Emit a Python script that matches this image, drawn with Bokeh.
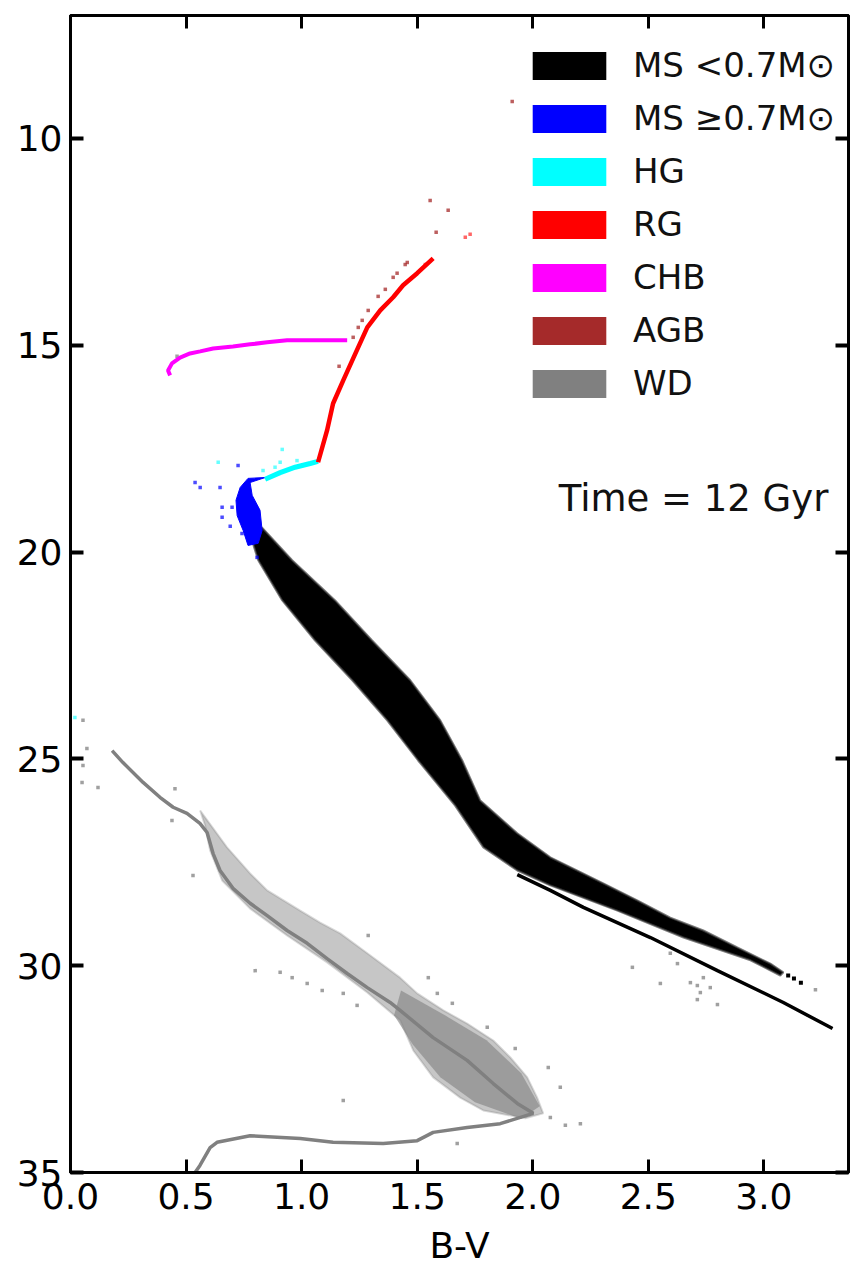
from bokeh.plotting import figure
from bokeh.models import (Range1d, LinearAxis, Legend, LegendItem, Label,
                          ColumnDataSource, FixedTicker, PrintfTickFormatter)
from bokeh.embed import file_html
from bokeh.resources import INLINE

# ---------------- data ----------------
# Main sequence < 0.7 Msun : band edges
ms_up_bv  = [0.829, 0.959, 1.145, 1.305, 1.470, 1.600, 1.695, 1.773, 1.933, 2.076,
             2.193, 2.305, 2.452, 2.595, 2.738, 2.885, 3.028, 3.084]
ms_up_mag = [19.41, 20.20, 21.17, 22.14, 23.10, 24.07, 25.04, 26.01, 26.80, 27.38,
             27.70, 28.01, 28.42, 28.84, 29.15, 29.56, 29.95, 30.16]
ms_lo_bv  = [3.071, 2.942, 2.652, 2.366, 2.076, 1.933, 1.786, 1.664, 1.504, 1.370,
             1.219, 1.058, 0.916, 0.812, 0.768]
ms_lo_mag = [30.24, 29.87, 29.32, 28.67, 28.06, 27.70, 27.14, 26.13, 25.04, 24.07,
             23.10, 22.14, 21.17, 20.20, 19.41]
# lower thin sequence
ms2_bv  = [1.933, 2.076, 2.219, 2.509, 2.799, 3.084, 3.297]
ms2_mag = [27.80, 28.18, 28.59, 29.32, 30.12, 30.89, 31.52]
# faint tail points of the band
mst_bv  = [3.105, 3.130, 3.160]
mst_mag = [30.24, 30.31, 30.41]

# Main sequence >= 0.7 Msun (turn-off)
ms7_bv  = [0.842, 0.777, 0.786, 0.820, 0.829, 0.812, 0.768, 0.747, 0.721, 0.716, 0.734, 0.768]
ms7_mag = [18.20, 18.32, 18.63, 18.99, 19.48, 19.79, 19.84, 19.48, 19.12, 18.75, 18.44, 18.22]
ms7p_bv  = [0.539, 0.561, 0.647, 0.725, 0.656, 0.699, 0.656, 0.691, 0.742, 0.807]
ms7p_mag = [18.32, 18.44, 18.44, 17.91, 18.92, 18.92, 19.16, 19.38, 19.55, 20.13]

# Hertzsprung gap
hg_bv  = [0.842, 0.907, 0.972, 1.037, 1.071]
hg_mag = [18.24, 18.08, 17.95, 17.86, 17.81]
hgp_bv  = [0.639, 0.916, 0.907, 0.980, 0.833, 0.885, 0.019]
hgp_mag = [17.83, 17.52, 17.83, 17.79, 18.03, 17.95, 24.00]

# Red giants
rg_bv  = [1.071, 1.110, 1.136, 1.180, 1.223, 1.284, 1.340, 1.396, 1.439, 1.500, 1.569]
rg_mag = [17.83, 17.06, 16.41, 15.85, 15.32, 14.57, 14.16, 13.84, 13.55, 13.26, 12.90]
rgp_bv  = [1.535, 1.729, 1.708]
rgp_mag = [13.05, 12.32, 12.39]

# Core helium burning
chb_bv  = [0.431, 0.422, 0.439, 0.474, 0.517, 0.561, 0.617, 0.703, 0.777, 0.851,
           0.937, 1.067, 1.197]
chb_mag = [15.73, 15.61, 15.44, 15.30, 15.20, 15.15, 15.08, 15.03, 14.98, 14.93,
           14.88, 14.88, 14.88]

# Asymptotic giant branch
agb_bv  = [1.223, 1.245, 1.262, 1.288, 1.331, 1.362, 1.396, 1.413, 1.448, 1.457,
           1.556, 1.634, 1.582, 1.911, 1.162]
agb_mag = [14.81, 14.57, 14.40, 14.16, 13.82, 13.65, 13.36, 13.26, 13.05, 13.00,
           11.50, 11.74, 12.27, 9.11, 15.51]

# White dwarfs: cooling track
wd_bv  = [0.180, 0.227, 0.314, 0.387, 0.444, 0.504, 0.560, 0.591, 0.617, 0.647,
          0.703, 0.777, 0.851, 0.937, 1.024, 1.110, 1.197, 1.284, 1.383, 1.426,
          1.569, 1.716, 1.829, 1.933, 2.002, 1.859, 1.716, 1.569, 1.500, 1.353,
          1.136, 0.994, 0.777, 0.634, 0.604, 0.560, 0.539]
wd_mag = [24.80, 25.09, 25.57, 25.93, 26.17, 26.32, 26.56, 26.78, 27.29, 27.70,
          28.13, 28.49, 28.79, 29.15, 29.46, 29.83, 30.19, 30.53, 30.89, 31.08,
          31.74, 32.29, 32.85, 33.33, 33.57, 33.82, 33.91, 34.03, 34.23, 34.30,
          34.27, 34.18, 34.11, 34.27, 34.40, 34.83, 35.00]
# White dwarfs: scatter cloud
wdc_bv  = [0.561, 0.677, 0.777, 0.851, 0.994, 1.080, 1.167, 1.284, 1.426, 1.500,
           1.613, 1.716, 1.829, 1.903, 1.976, 2.019, 2.045, 1.968, 1.786, 1.686,
           1.569, 1.483, 1.426, 1.284, 1.110, 0.937, 0.777, 0.656, 0.604, 0.582]
wdc_mag = [26.25, 27.14, 27.77, 28.18, 28.67, 28.96, 29.22, 29.70, 30.29, 30.67,
           31.08, 31.40, 31.81, 32.22, 32.70, 33.19, 33.57, 33.69, 33.50, 33.19,
           32.70, 32.05, 31.32, 30.65, 29.92, 29.27, 28.62, 27.94, 27.21, 26.61]
# denser part of the cloud
wdd_bv  = [1.43, 1.62, 1.80, 1.95, 2.03, 1.95, 1.75, 1.60, 1.48, 1.40]
wdd_mag = [30.60, 31.20, 31.80, 32.60, 33.40, 33.70, 33.30, 32.70, 31.90, 31.20]
# White dwarfs: isolated points
wdp_bv  = [0.054, 0.071, 0.054, 0.050, 0.119, 0.452, 0.439, 0.530, 0.799, 0.907,
           0.959, 1.024, 1.089, 1.180, 1.240, 1.180, 1.288, 2.431, 2.552, 2.682,
           2.712, 2.738, 2.725, 2.712, 2.799, 2.768, 3.223, 2.626, 2.595, 1.548,
           1.587, 1.652, 1.803, 1.924, 2.067, 2.119, 2.206, 2.141, 2.076, 1.673,
           0.461]
wdp_mag = [24.07, 24.75, 25.16, 25.57, 25.69, 25.72, 26.49, 27.82, 30.12, 30.16,
           30.29, 30.43, 30.60, 30.67, 30.96, 33.26, 29.27, 30.04, 30.43, 30.41,
           30.48, 30.29, 30.65, 30.82, 30.94, 30.53, 30.58, 29.95, 29.70, 30.29,
           30.67, 30.91, 31.49, 32.00, 32.46, 32.94, 33.82, 33.86, 33.67, 34.30,
           15.27]

legend_labels = ["MS <0.7M\u2299", "MS \u22650.7M\u2299", "HG", "RG", "CHB", "AGB", "WD"]
legend_colors = ["#000000", "#0000ff", "#00ffff", "#ff0000", "#ff00ff", "#a52a2a", "#808080"]

x_ticks = [0.0, 0.5, 1.0, 1.5, 2.0, 2.5, 3.0]
y_ticks = [10, 15, 20, 25, 30, 35]

FONT = "DejaVu Sans"

# ---------------- figure ----------------
p = figure(width=850, height=1271, x_range=Range1d(0, 3.366), y_range=Range1d(35, 7.03),
           output_backend="svg", toolbar_location=None,
           min_border_left=70, min_border_right=2, min_border_top=15, min_border_bottom=99)
p.grid.visible = False
p.outline_line_color = "black"
p.outline_line_width = 3
p.background_fill_color = "white"
p.border_fill_color = "white"

p.add_layout(LinearAxis(), "above")
p.add_layout(LinearAxis(), "right")

bottom = p.below[0]
left = p.left[0]
top = p.above[0]
right = p.right[0]

for ax in (bottom, top):
    ax.ticker = FixedTicker(ticks=x_ticks)
for ax in (left, right):
    ax.ticker = FixedTicker(ticks=y_ticks)

for ax in (bottom, left, top, right):
    ax.major_tick_in = 13
    ax.major_tick_out = 0
    ax.minor_tick_line_color = None
    ax.axis_line_width = 3
    ax.major_tick_line_width = 3
    ax.axis_line_color = "black"
    ax.major_tick_line_color = "black"
    ax.major_label_text_font = FONT
    ax.major_label_text_font_size = "36px"
    ax.major_label_text_color = "black"

top.major_label_overrides = {t: "" for t in x_ticks}
right.major_label_overrides = {t: "" for t in y_ticks}
for ax in (top, right):
    ax.major_label_text_font_size = "8px"
    ax.major_label_standoff = 0

bottom.formatter = PrintfTickFormatter(format="%.1f")
left.major_tick_line_width = 4
right.major_tick_line_width = 4
left.major_label_standoff = 8
bottom.major_label_standoff = 10
bottom.axis_label = "B-V"
bottom.axis_label_text_font = FONT
bottom.axis_label_text_font_size = "36px"
bottom.axis_label_text_font_style = "normal"
bottom.axis_label_text_color = "black"
bottom.axis_label_standoff = 13

# ---------------- marks ----------------
GRAY = legend_colors[6]
p.patch(wdc_bv, wdc_mag, fill_color=GRAY, fill_alpha=0.45, line_color=GRAY, line_alpha=0.3, line_width=2)
p.patch(wdd_bv, wdd_mag, fill_color=GRAY, fill_alpha=0.6, line_color=None)
p.line(wd_bv, wd_mag, line_color=GRAY, line_width=3.5)
p.scatter(wdp_bv, wdp_mag, marker="square", size=3.5, fill_color=GRAY, line_color=None, fill_alpha=0.75)

p.patch(ms_up_bv + ms_lo_bv, ms_up_mag + ms_lo_mag, fill_color="black",
        line_color="#444444", line_width=2, line_alpha=0.7)
p.line(ms2_bv, ms2_mag, line_color="black", line_width=3.5)
p.scatter(mst_bv, mst_mag, marker="square", size=4, fill_color="black", line_color=None)

p.patch(ms7_bv, ms7_mag, fill_color="#0000ff", line_color="#0000ff", line_width=1)
p.scatter(ms7p_bv, ms7p_mag, marker="square", size=3.5, fill_color="#0000ff", line_color=None, fill_alpha=0.7)

p.line(hg_bv, hg_mag, line_color="#00ffff", line_width=5)
p.scatter(hgp_bv, hgp_mag, marker="square", size=3.5, fill_color="#00ffff", line_color=None, fill_alpha=0.6)

p.line(rg_bv, rg_mag, line_color="#ff0000", line_width=4.5)
p.scatter(rgp_bv, rgp_mag, marker="square", size=3.5, fill_color="#ff0000", line_color=None, fill_alpha=0.6)

p.line(chb_bv, chb_mag, line_color="#ff00ff", line_width=4)

p.scatter(agb_bv, agb_mag, marker="square", size=3.5, fill_color="#a52a2a", line_color=None, fill_alpha=0.75)

# ---------------- legend ----------------
nan = float("nan")
items = []
for lab, col in zip(legend_labels, legend_colors):
    src = ColumnDataSource(dict(l=[nan], r=[nan], t=[nan], b=[nan]))
    r = p.quad(left="l", right="r", top="t", bottom="b", source=src,
               fill_color=col, line_color=None)
    items.append(LegendItem(label=lab, renderers=[r]))

legend = Legend(items=items, location=(453, 769), glyph_width=92, glyph_height=35,
                label_text_font=FONT, label_text_font_size="34px", label_text_color="#111111",
                label_standoff=18, spacing=13, padding=0, margin=0,
                border_line_color=None, background_fill_alpha=0)
p.add_layout(legend)

p.add_layout(Label(x=3.279, y=18.70, text="Time = 12 Gyr", text_align="right",
                   text_baseline="alphabetic", text_font=FONT, text_font_size="37px",
                   text_color="#111111"))

open("out.html", "w").write(file_html(p, INLINE))
